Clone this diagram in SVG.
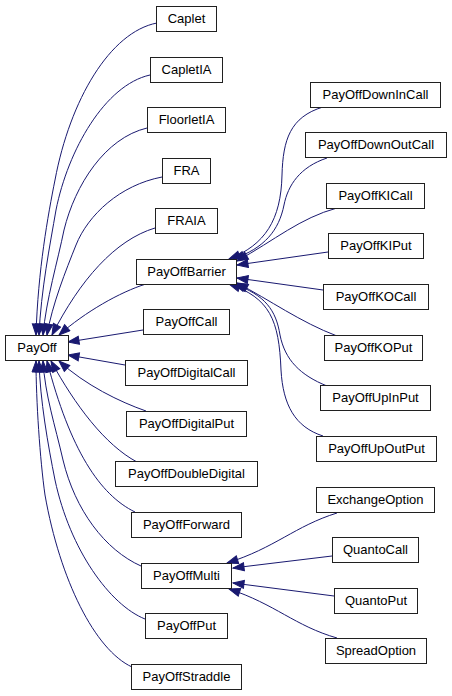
<svg xmlns="http://www.w3.org/2000/svg" width="452" height="696" viewBox="0 0 452 696">
<style>
.n rect{fill:#fff;stroke:#202020;stroke-width:1}
.n text{font-family:"Liberation Sans",Arial,sans-serif;font-size:13px;fill:#000;text-anchor:middle}
.e path{fill:none;stroke:#191970;stroke-width:1;marker-end:url(#a)}
</style>
<defs>
<marker id="a" markerUnits="userSpaceOnUse" markerWidth="13" markerHeight="10" refX="12" refY="5" orient="auto" viewBox="0 0 13 10">
<path d="M1,1 L12,5 L1,9 Z" fill="#191970" stroke="#191970" stroke-width="1"/>
</marker>
</defs>
<g id="edges" class="e">
<path d="M157,23 C110,32 70,100 55,180 C48,215 38,270 36,335"/>
<path d="M150,75 C105,85 68,150 56,210 C50,245 41,290 39,335"/>
<path d="M147,128 C105,138 75,185 64,230 C58,260 46,300 43,335"/>
<path d="M162,177 C120,185 88,215 76,245 C66,270 52,305 47,335"/>
<path d="M155,228 C115,240 80,280 52,335"/>
<path d="M146,284 C120,292 85,312 59,335"/>
<path d="M143,330 L68,342"/>
<path d="M125,365 L68,355"/>
<path d="M146,411 C120,402 85,385 59,361"/>
<path d="M137,462 C105,445 75,405 51,361"/>
<path d="M135,512 C100,495 70,450 47,361"/>
<path d="M141,566 C105,550 75,510 63,460 C55,425 45,395 43,361"/>
<path d="M145,619 C110,605 70,550 55,480 C48,445 40,400 39,361"/>
<path d="M132,667 C95,650 60,580 45,495 C40,460 36,400 36,361"/>
<path d="M323,107 C290,117 283,140 282,175 C281,220 265,245 229,259"/>
<path d="M327,158 C300,167 288,185 284,205 C279,230 265,248 233,259"/>
<path d="M337,208 C300,218 275,240 237,261"/>
<path d="M328,252 L237,265"/>
<path d="M323,290 L237,278"/>
<path d="M337,336 C300,322 270,300 237,283"/>
<path d="M327,386 C300,375 285,360 280,335 C276,310 265,295 234,284"/>
<path d="M323,436 C295,427 283,405 281,370 C279,320 270,298 229,284"/>
<path d="M337,513 C295,526 275,548 227,563"/>
<path d="M332,556 L233,568"/>
<path d="M334,596 L233,583"/>
<path d="M337,638 C295,626 275,604 229,589"/>
</g>
<g id="PayOff" class="n"><rect x="5.5" y="335.5" width="63" height="25"/><text x="37" y="352">PayOff</text></g>
<g id="Caplet" class="n"><rect x="156.5" y="6.5" width="60" height="25"/><text x="186.5" y="23">Caplet</text></g>
<g id="CapletIA" class="n"><rect x="150.5" y="57.5" width="72" height="25"/><text x="186.5" y="74">CapletIA</text></g>
<g id="FloorletIA" class="n"><rect x="147.5" y="107.5" width="78" height="25"/><text x="186.5" y="124">FloorletIA</text></g>
<g id="FRA" class="n"><rect x="162.5" y="158.5" width="48" height="25"/><text x="186.5" y="175">FRA</text></g>
<g id="FRAIA" class="n"><rect x="155.5" y="208.5" width="62" height="25"/><text x="186.5" y="225">FRAIA</text></g>
<g id="PayOffBarrier" class="n"><rect x="136.5" y="259.5" width="100" height="25"/><text x="186.5" y="276">PayOffBarrier</text></g>
<g id="PayOffCall" class="n"><rect x="143.5" y="309.5" width="86" height="25"/><text x="186.5" y="326">PayOffCall</text></g>
<g id="PayOffDigitalCall" class="n"><rect x="125.5" y="360.5" width="122" height="25"/><text x="186.5" y="377">PayOffDigitalCall</text></g>
<g id="PayOffDigitalPut" class="n"><rect x="126.5" y="411.5" width="120" height="25"/><text x="186.5" y="428">PayOffDigitalPut</text></g>
<g id="PayOffDoubleDigital" class="n"><rect x="115.5" y="461.5" width="142" height="25"/><text x="186.5" y="478">PayOffDoubleDigital</text></g>
<g id="PayOffForward" class="n"><rect x="131.5" y="512.5" width="110" height="25"/><text x="186.5" y="529">PayOffForward</text></g>
<g id="PayOffMulti" class="n"><rect x="141.5" y="563.5" width="90" height="25"/><text x="186.5" y="580">PayOffMulti</text></g>
<g id="PayOffPut" class="n"><rect x="145.5" y="613.5" width="82" height="25"/><text x="186.5" y="630">PayOffPut</text></g>
<g id="PayOffStraddle" class="n"><rect x="131.5" y="664.5" width="110" height="25"/><text x="186.5" y="681">PayOffStraddle</text></g>
<g id="PayOffDownInCall" class="n"><rect x="310.5" y="82.5" width="130" height="25"/><text x="375.5" y="99">PayOffDownInCall</text></g>
<g id="PayOffDownOutCall" class="n"><rect x="305.5" y="132.5" width="141" height="25"/><text x="376" y="149">PayOffDownOutCall</text></g>
<g id="PayOffKICall" class="n"><rect x="326.5" y="183.5" width="98" height="25"/><text x="375.5" y="200">PayOffKICall</text></g>
<g id="PayOffKIPut" class="n"><rect x="328.5" y="233.5" width="95" height="25"/><text x="376" y="250">PayOffKIPut</text></g>
<g id="PayOffKOCall" class="n"><rect x="323.5" y="284.5" width="105" height="25"/><text x="376" y="301">PayOffKOCall</text></g>
<g id="PayOffKOPut" class="n"><rect x="324.5" y="335.5" width="98" height="25"/><text x="373.5" y="352">PayOffKOPut</text></g>
<g id="PayOffUpInPut" class="n"><rect x="320.5" y="385.5" width="110" height="25"/><text x="375.5" y="402">PayOffUpInPut</text></g>
<g id="PayOffUpOutPut" class="n"><rect x="316.5" y="436.5" width="120" height="25"/><text x="376.5" y="453">PayOffUpOutPut</text></g>
<g id="ExchangeOption" class="n"><rect x="316.5" y="487.5" width="118" height="25"/><text x="375.5" y="504">ExchangeOption</text></g>
<g id="QuantoCall" class="n"><rect x="332.5" y="537.5" width="86" height="25"/><text x="375.5" y="554">QuantoCall</text></g>
<g id="QuantoPut" class="n"><rect x="334.5" y="588.5" width="83" height="25"/><text x="376" y="605">QuantoPut</text></g>
<g id="SpreadOption" class="n"><rect x="325.5" y="638.5" width="101" height="25"/><text x="376" y="655">SpreadOption</text></g>
</svg>
